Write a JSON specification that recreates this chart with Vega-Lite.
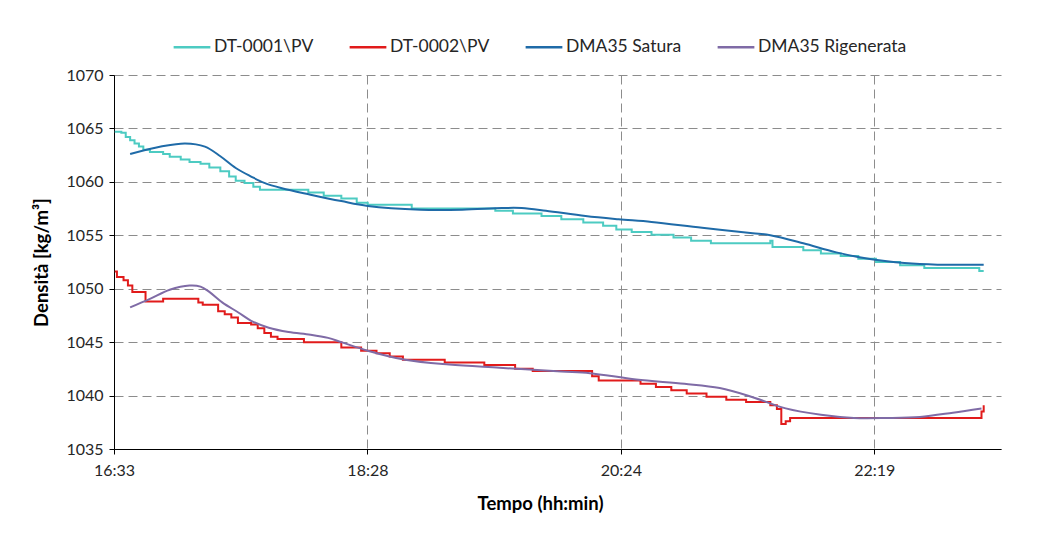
{
  "$schema": "https://vega.github.io/schema/vega-lite/v6.json",
  "autosize": {"type": "none"},
  "width": 887,
  "height": 374,
  "padding": {"left": 114, "top": 75, "right": 56, "bottom": 84},
  "background": "white",
  "data": {
    "format": {"parse": {"time": "date:'%H:%M'"}},
    "values": [
      {"series": "DT-0001\\PV", "time": "16:34", "value": 1064.7},
      {"series": "DT-0001\\PV", "time": "16:37", "value": 1064.6},
      {"series": "DT-0001\\PV", "time": "16:39", "value": 1064.2},
      {"series": "DT-0001\\PV", "time": "16:41", "value": 1063.9},
      {"series": "DT-0001\\PV", "time": "16:43", "value": 1063.6},
      {"series": "DT-0001\\PV", "time": "16:45", "value": 1063.3},
      {"series": "DT-0001\\PV", "time": "16:47", "value": 1063.0},
      {"series": "DT-0001\\PV", "time": "16:50", "value": 1062.8},
      {"series": "DT-0001\\PV", "time": "16:56", "value": 1062.6},
      {"series": "DT-0001\\PV", "time": "16:59", "value": 1062.35},
      {"series": "DT-0001\\PV", "time": "17:04", "value": 1062.1},
      {"series": "DT-0001\\PV", "time": "17:08", "value": 1061.85},
      {"series": "DT-0001\\PV", "time": "17:13", "value": 1061.7},
      {"series": "DT-0001\\PV", "time": "17:17", "value": 1061.35},
      {"series": "DT-0001\\PV", "time": "17:22", "value": 1061.0},
      {"series": "DT-0001\\PV", "time": "17:26", "value": 1060.5},
      {"series": "DT-0001\\PV", "time": "17:29", "value": 1060.1},
      {"series": "DT-0001\\PV", "time": "17:33", "value": 1059.9},
      {"series": "DT-0001\\PV", "time": "17:37", "value": 1059.55},
      {"series": "DT-0001\\PV", "time": "17:40", "value": 1059.25},
      {"series": "DT-0001\\PV", "time": "18:02", "value": 1059.0},
      {"series": "DT-0001\\PV", "time": "18:09", "value": 1058.7},
      {"series": "DT-0001\\PV", "time": "18:17", "value": 1058.45},
      {"series": "DT-0001\\PV", "time": "18:24", "value": 1058.05},
      {"series": "DT-0001\\PV", "time": "18:29", "value": 1057.85},
      {"series": "DT-0001\\PV", "time": "18:49", "value": 1057.5},
      {"series": "DT-0001\\PV", "time": "19:27", "value": 1057.3},
      {"series": "DT-0001\\PV", "time": "19:35", "value": 1057.05},
      {"series": "DT-0001\\PV", "time": "19:48", "value": 1056.8},
      {"series": "DT-0001\\PV", "time": "19:57", "value": 1056.5},
      {"series": "DT-0001\\PV", "time": "20:07", "value": 1056.2},
      {"series": "DT-0001\\PV", "time": "20:16", "value": 1055.9},
      {"series": "DT-0001\\PV", "time": "20:22", "value": 1055.55},
      {"series": "DT-0001\\PV", "time": "20:29", "value": 1055.3},
      {"series": "DT-0001\\PV", "time": "20:38", "value": 1055.05},
      {"series": "DT-0001\\PV", "time": "20:48", "value": 1054.8},
      {"series": "DT-0001\\PV", "time": "20:56", "value": 1054.5},
      {"series": "DT-0001\\PV", "time": "21:05", "value": 1054.25},
      {"series": "DT-0001\\PV", "time": "21:32", "value": 1054.5},
      {"series": "DT-0001\\PV", "time": "21:33", "value": 1053.9},
      {"series": "DT-0001\\PV", "time": "21:47", "value": 1053.6},
      {"series": "DT-0001\\PV", "time": "21:55", "value": 1053.3},
      {"series": "DT-0001\\PV", "time": "22:04", "value": 1053.05},
      {"series": "DT-0001\\PV", "time": "22:12", "value": 1052.8},
      {"series": "DT-0001\\PV", "time": "22:20", "value": 1052.5},
      {"series": "DT-0001\\PV", "time": "22:31", "value": 1052.2},
      {"series": "DT-0001\\PV", "time": "22:42", "value": 1051.95},
      {"series": "DT-0001\\PV", "time": "23:07", "value": 1051.65},
      {"series": "DT-0001\\PV", "time": "23:09", "value": 1051.65},

      {"series": "DT-0002\\PV", "time": "16:34", "value": 1051.6},
      {"series": "DT-0002\\PV", "time": "16:35", "value": 1051.1},
      {"series": "DT-0002\\PV", "time": "16:38", "value": 1050.8},
      {"series": "DT-0002\\PV", "time": "16:40", "value": 1050.3},
      {"series": "DT-0002\\PV", "time": "16:42", "value": 1049.7},
      {"series": "DT-0002\\PV", "time": "16:48", "value": 1048.8},
      {"series": "DT-0002\\PV", "time": "16:56", "value": 1049.05},
      {"series": "DT-0002\\PV", "time": "17:12", "value": 1048.7},
      {"series": "DT-0002\\PV", "time": "17:14", "value": 1048.5},
      {"series": "DT-0002\\PV", "time": "17:21", "value": 1047.9},
      {"series": "DT-0002\\PV", "time": "17:24", "value": 1047.6},
      {"series": "DT-0002\\PV", "time": "17:27", "value": 1047.3},
      {"series": "DT-0002\\PV", "time": "17:30", "value": 1046.8},
      {"series": "DT-0002\\PV", "time": "17:36", "value": 1046.65},
      {"series": "DT-0002\\PV", "time": "17:39", "value": 1046.3},
      {"series": "DT-0002\\PV", "time": "17:42", "value": 1045.85},
      {"series": "DT-0002\\PV", "time": "17:45", "value": 1045.5},
      {"series": "DT-0002\\PV", "time": "17:48", "value": 1045.3},
      {"series": "DT-0002\\PV", "time": "18:00", "value": 1045.0},
      {"series": "DT-0002\\PV", "time": "18:17", "value": 1044.5},
      {"series": "DT-0002\\PV", "time": "18:26", "value": 1044.2},
      {"series": "DT-0002\\PV", "time": "18:33", "value": 1043.95},
      {"series": "DT-0002\\PV", "time": "18:39", "value": 1043.65},
      {"series": "DT-0002\\PV", "time": "18:45", "value": 1043.35},
      {"series": "DT-0002\\PV", "time": "19:04", "value": 1043.1},
      {"series": "DT-0002\\PV", "time": "19:22", "value": 1042.85},
      {"series": "DT-0002\\PV", "time": "19:36", "value": 1042.5},
      {"series": "DT-0002\\PV", "time": "19:44", "value": 1042.3},
      {"series": "DT-0002\\PV", "time": "20:11", "value": 1041.8},
      {"series": "DT-0002\\PV", "time": "20:14", "value": 1041.4},
      {"series": "DT-0002\\PV", "time": "20:33", "value": 1041.1},
      {"series": "DT-0002\\PV", "time": "20:40", "value": 1040.8},
      {"series": "DT-0002\\PV", "time": "20:47", "value": 1040.5},
      {"series": "DT-0002\\PV", "time": "20:54", "value": 1040.2},
      {"series": "DT-0002\\PV", "time": "21:03", "value": 1039.9},
      {"series": "DT-0002\\PV", "time": "21:12", "value": 1039.6},
      {"series": "DT-0002\\PV", "time": "21:21", "value": 1039.4},
      {"series": "DT-0002\\PV", "time": "21:32", "value": 1039.1},
      {"series": "DT-0002\\PV", "time": "21:35", "value": 1038.75},
      {"series": "DT-0002\\PV", "time": "21:37", "value": 1037.35},
      {"series": "DT-0002\\PV", "time": "21:39", "value": 1037.6},
      {"series": "DT-0002\\PV", "time": "21:41", "value": 1037.9},
      {"series": "DT-0002\\PV", "time": "23:08", "value": 1038.5},
      {"series": "DT-0002\\PV", "time": "23:09", "value": 1039.1},

      {"series": "DMA35 Satura", "time": "16:41", "value": 1062.6},
      {"series": "DMA35 Satura", "time": "16:55", "value": 1063.3},
      {"series": "DMA35 Satura", "time": "17:06", "value": 1063.6},
      {"series": "DMA35 Satura", "time": "17:15", "value": 1063.3},
      {"series": "DMA35 Satura", "time": "17:22", "value": 1062.4},
      {"series": "DMA35 Satura", "time": "17:29", "value": 1061.3},
      {"series": "DMA35 Satura", "time": "17:36", "value": 1060.5},
      {"series": "DMA35 Satura", "time": "17:42", "value": 1059.9},
      {"series": "DMA35 Satura", "time": "17:50", "value": 1059.4},
      {"series": "DMA35 Satura", "time": "18:03", "value": 1058.8},
      {"series": "DMA35 Satura", "time": "18:17", "value": 1058.2},
      {"series": "DMA35 Satura", "time": "18:29", "value": 1057.75},
      {"series": "DMA35 Satura", "time": "18:53", "value": 1057.4},
      {"series": "DMA35 Satura", "time": "19:12", "value": 1057.4},
      {"series": "DMA35 Satura", "time": "19:30", "value": 1057.55},
      {"series": "DMA35 Satura", "time": "19:39", "value": 1057.55},
      {"series": "DMA35 Satura", "time": "19:50", "value": 1057.3},
      {"series": "DMA35 Satura", "time": "20:08", "value": 1056.8},
      {"series": "DMA35 Satura", "time": "20:23", "value": 1056.5},
      {"series": "DMA35 Satura", "time": "20:38", "value": 1056.25},
      {"series": "DMA35 Satura", "time": "21:01", "value": 1055.7},
      {"series": "DMA35 Satura", "time": "21:24", "value": 1055.2},
      {"series": "DMA35 Satura", "time": "21:32", "value": 1055.0},
      {"series": "DMA35 Satura", "time": "21:47", "value": 1054.25},
      {"series": "DMA35 Satura", "time": "22:02", "value": 1053.4},
      {"series": "DMA35 Satura", "time": "22:18", "value": 1052.75},
      {"series": "DMA35 Satura", "time": "22:33", "value": 1052.4},
      {"series": "DMA35 Satura", "time": "22:48", "value": 1052.25},
      {"series": "DMA35 Satura", "time": "23:09", "value": 1052.25},

      {"series": "DMA35 Rigenerata", "time": "16:41", "value": 1048.25},
      {"series": "DMA35 Rigenerata", "time": "16:50", "value": 1049.05},
      {"series": "DMA35 Rigenerata", "time": "16:59", "value": 1049.9},
      {"series": "DMA35 Rigenerata", "time": "17:08", "value": 1050.3},
      {"series": "DMA35 Rigenerata", "time": "17:13", "value": 1050.2},
      {"series": "DMA35 Rigenerata", "time": "17:17", "value": 1049.7},
      {"series": "DMA35 Rigenerata", "time": "17:23", "value": 1048.7},
      {"series": "DMA35 Rigenerata", "time": "17:30", "value": 1047.8},
      {"series": "DMA35 Rigenerata", "time": "17:36", "value": 1047.0},
      {"series": "DMA35 Rigenerata", "time": "17:44", "value": 1046.35},
      {"series": "DMA35 Rigenerata", "time": "17:53", "value": 1045.95},
      {"series": "DMA35 Rigenerata", "time": "18:03", "value": 1045.7},
      {"series": "DMA35 Rigenerata", "time": "18:11", "value": 1045.4},
      {"series": "DMA35 Rigenerata", "time": "18:17", "value": 1045.0},
      {"series": "DMA35 Rigenerata", "time": "18:29", "value": 1044.2},
      {"series": "DMA35 Rigenerata", "time": "18:46", "value": 1043.35},
      {"series": "DMA35 Rigenerata", "time": "19:06", "value": 1042.9},
      {"series": "DMA35 Rigenerata", "time": "19:29", "value": 1042.6},
      {"series": "DMA35 Rigenerata", "time": "19:57", "value": 1042.25},
      {"series": "DMA35 Rigenerata", "time": "20:10", "value": 1042.1},
      {"series": "DMA35 Rigenerata", "time": "20:31", "value": 1041.5},
      {"series": "DMA35 Rigenerata", "time": "20:53", "value": 1041.1},
      {"series": "DMA35 Rigenerata", "time": "21:09", "value": 1040.7},
      {"series": "DMA35 Rigenerata", "time": "21:24", "value": 1039.85},
      {"series": "DMA35 Rigenerata", "time": "21:39", "value": 1038.8},
      {"series": "DMA35 Rigenerata", "time": "21:55", "value": 1038.2},
      {"series": "DMA35 Rigenerata", "time": "22:10", "value": 1037.9},
      {"series": "DMA35 Rigenerata", "time": "22:25", "value": 1037.9},
      {"series": "DMA35 Rigenerata", "time": "22:40", "value": 1038.0},
      {"series": "DMA35 Rigenerata", "time": "22:55", "value": 1038.4},
      {"series": "DMA35 Rigenerata", "time": "23:08", "value": 1038.8}
    ]
  },
  "encoding": {
    "x": {
      "field": "time",
      "type": "temporal",
      "title": "Tempo (hh:min)",
      "scale": {
        "nice": false,
        "domain": [
          {"year": 1900, "month": 1, "date": 1, "hours": 16, "minutes": 33, "seconds": 40},
          {"year": 1900, "month": 1, "date": 1, "hours": 23, "minutes": 16, "seconds": 52}
        ]
      },
      "axis": {
        "format": "%H:%M",
        "values": [
          {"year": 1900, "month": 1, "date": 1, "hours": 16, "minutes": 33, "seconds": 40},
          {"year": 1900, "month": 1, "date": 1, "hours": 18, "minutes": 28, "seconds": 52},
          {"year": 1900, "month": 1, "date": 1, "hours": 20, "minutes": 24, "seconds": 4},
          {"year": 1900, "month": 1, "date": 1, "hours": 22, "minutes": 19, "seconds": 16}
        ],
        "labelFlush": false,
        "labelPadding": 8,
        "titlePadding": 16,
        "titleX": 426
      }
    },
    "y": {
      "field": "value",
      "type": "quantitative",
      "title": "Densità [kg/m³]",
      "scale": {"domain": [1035, 1070], "nice": false, "zero": false},
      "axis": {
        "values": [1035, 1040, 1045, 1050, 1055, 1060, 1065, 1070],
        "format": "d",
        "labelPadding": 6,
        "titlePadding": 14
      }
    },
    "color": {
      "field": "series",
      "type": "nominal",
      "title": null,
      "scale": {
        "domain": ["DT-0001\\PV", "DT-0002\\PV", "DMA35 Satura", "DMA35 Rigenerata"],
        "range": ["#4DCBC2", "#E11B1B", "#1F6BA8", "#7F6BA6"]
      },
      "legend": {
        "orient": "none",
        "direction": "horizontal",
        "legendX": 58,
        "legendY": -48,
        "symbolType": "stroke",
        "symbolSize": 1350,
        "symbolStrokeWidth": 2.5,
        "labelOffset": 2,
        "columnPadding": 30,
        "labelFontSize": 17.5,
        "labelFont": "Lato",
        "labelColor": "#262626"
      }
    }
  },
  "layer": [
    {
      "transform": [{"filter": "indexof(datum.series, 'DT-') === 0"}],
      "mark": {"type": "line", "interpolate": "step-after", "strokeWidth": 2}
    },
    {
      "transform": [{"filter": "indexof(datum.series, 'DMA35') === 0"}],
      "mark": {"type": "line", "interpolate": "catmull-rom", "strokeWidth": 2}
    }
  ],
  "config": {
    "font": "Lato",
    "view": {"stroke": null},
    "axis": {
      "domainColor": "#000000",
      "domainWidth": 1,
      "tickColor": "#000000",
      "tickSize": 5,
      "labelFont": "Lato",
      "labelFontSize": 16,
      "labelColor": "#262626",
      "titleFont": "Lato",
      "titleFontSize": 18.5,
      "titleFontWeight": "bold",
      "titleColor": "#000000",
      "grid": true,
      "gridColor": "#8C8C8C",
      "gridDash": [9, 5],
      "gridWidth": 1
    }
  }
}
